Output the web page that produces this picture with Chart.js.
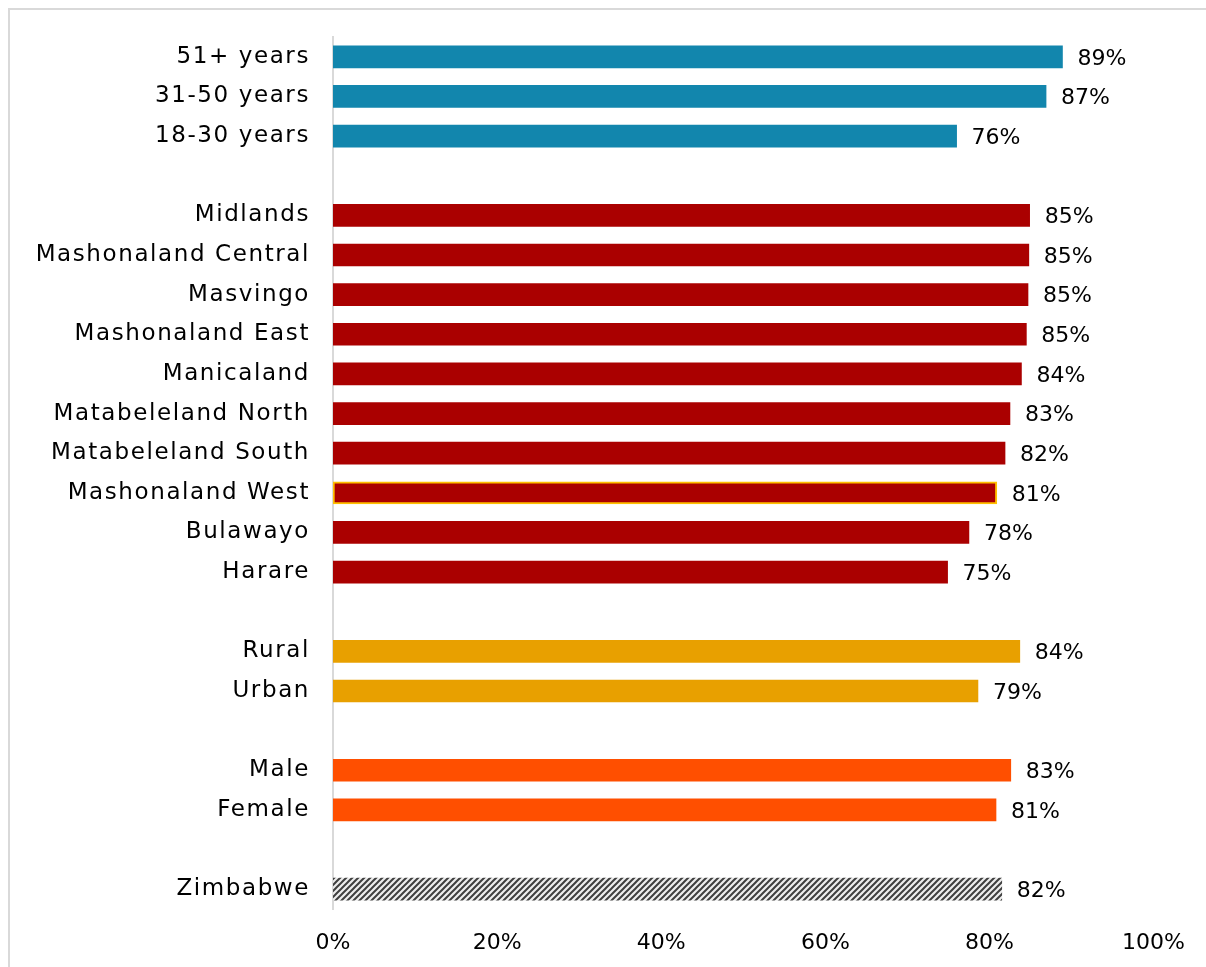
<!DOCTYPE html>
<html>
<head>
<meta charset="utf-8">
<script src="https://cdn.jsdelivr.net/npm/chart.js@4/dist/chart.umd.min.js"></script>
<style>
  html, body { margin: 0; background: #fff; overflow: hidden; }
</style>
</head>
<body>
<canvas id="cv" width="1206" height="967"></canvas>
<script>
// rows top to bottom, '' rows are gaps between groups
const categories = ['51+ years', '31-50 years', '18-30 years', '',
  'Midlands', 'Mashonaland Central', 'Masvingo', 'Mashonaland East', 'Manicaland',
  'Matabeleland North', 'Matabeleland South', 'Mashonaland West', 'Bulawayo', 'Harare', '',
  'Rural', 'Urban', '', 'Male', 'Female', '', 'Zimbabwe'];
const values = [88.9, 86.9, 76.0, null,
  84.9, 84.8, 84.7, 84.5, 83.9, 82.5, 81.9, 80.9, 77.5, 74.9, null,
  83.7, 78.6, null, 82.6, 80.8, null, 81.5];
const groups = ['age', 'age', 'age', '',
  'prov', 'prov', 'prov', 'prov', 'prov', 'prov', 'prov', 'prov', 'prov', 'prov', '',
  'area', 'area', '', 'sex', 'sex', '', 'total'];
const xTicks = [0, 20, 40, 60, 80, 100];

const FONT = "'DejaVu Sans', sans-serif";

function stripes(){
  const c = document.createElement('canvas');
  c.width = 6; c.height = 6;
  const g = c.getContext('2d');
  g.fillStyle = '#ededed';
  g.fillRect(0, 0, 6, 6);
  g.strokeStyle = '#3f3f3f';
  g.lineWidth = 2;
  g.beginPath();
  g.moveTo(-1, 7); g.lineTo(7, -1);
  g.moveTo(-4, 4); g.lineTo(4, -4);
  g.moveTo(2, 10); g.lineTo(10, 2);
  g.stroke();
  return document.getElementById('cv').getContext('2d').createPattern(c, 'repeat');
}

const groupColor = { age: '#1286ad', prov: '#aa0000', area: '#e8a000', sex: '#ff4f00' };
const bg = groups.map(g => g === 'total' ? stripes() : (groupColor[g] || 'transparent'));
const border = categories.map(c => c === 'Mashonaland West' ? '#ffc000' : 'transparent');
const borderW = categories.map(c => c === 'Mashonaland West' ? 2 : 0);

// outer frame (left + top edge only, the rest is cropped in the original)
const frame = {
  id: 'frame',
  beforeDraw(chart){
    const ctx = chart.ctx;
    ctx.save();
    ctx.fillStyle = '#d9d9d9';
    ctx.fillRect(8, 8, chart.width - 8, 2);
    ctx.fillRect(8, 8, 2, chart.height - 8);
    ctx.restore();
  }
};

// wider letters for the category labels only (Century Gothic look)
const spacing = {
  id: 'spacing',
  afterLayout(chart){
    const y = chart.scales.y;
    if (y._wrapped) return;
    const orig = y.drawLabels.bind(y);
    y.drawLabels = function(area){
      chart.ctx.letterSpacing = '1.6px';
      orig(area);
      chart.ctx.letterSpacing = '0px';
    };
    y._wrapped = true;
  }
};

const valueLabels = {
  id: 'valueLabels',
  afterDatasetsDraw(chart){
    const ctx = chart.ctx;
    const meta = chart.getDatasetMeta(0);
    ctx.save();
    ctx.letterSpacing = '0px';
    ctx.font = '22px ' + FONT;
    ctx.fillStyle = '#000';
    ctx.textBaseline = 'middle';
    ctx.textAlign = 'left';
    meta.data.forEach((bar, i) => {
      if (values[i] == null) return;
      ctx.fillText(Math.round(values[i]) + '%', bar.x + 15, bar.y + 2);
    });
    ctx.restore();
  }
};

new Chart(document.getElementById('cv'), {
  type: 'bar',
  data: {
    labels: categories,
    datasets: [{
      data: values,
      backgroundColor: bg,
      borderColor: border,
      borderWidth: borderW,
      borderSkipped: false,
      barThickness: 22
    }]
  },
  options: {
    indexAxis: 'y',
    responsive: false,
    animation: false,
    layout: { padding: { top: 37, right: 51, bottom: 0, left: 0 } },
    plugins: { legend: { display: false }, tooltip: { enabled: false } },
    scales: {
      y: {
        grid: { display: false, drawTicks: false },
        border: { display: true, color: '#d9d9d9', width: 2 },
        ticks: { color: '#000', padding: 23, font: { family: FONT, size: 23 } },
        afterFit(s){ s.width = 333; }
      },
      x: {
        min: 0, max: 100,
        grid: { display: false, drawTicks: false },
        border: { display: false },
        afterBuildTicks(s){ s.ticks = xTicks.map(v => ({ value: v })); },
        ticks: { color: '#000', padding: 21, font: { family: FONT, size: 22 }, callback: v => v + '%' },
        afterFit(s){ s.height = 58; }
      }
    }
  },
  plugins: [frame, spacing, valueLabels]
});
</script>
</body>
</html>
